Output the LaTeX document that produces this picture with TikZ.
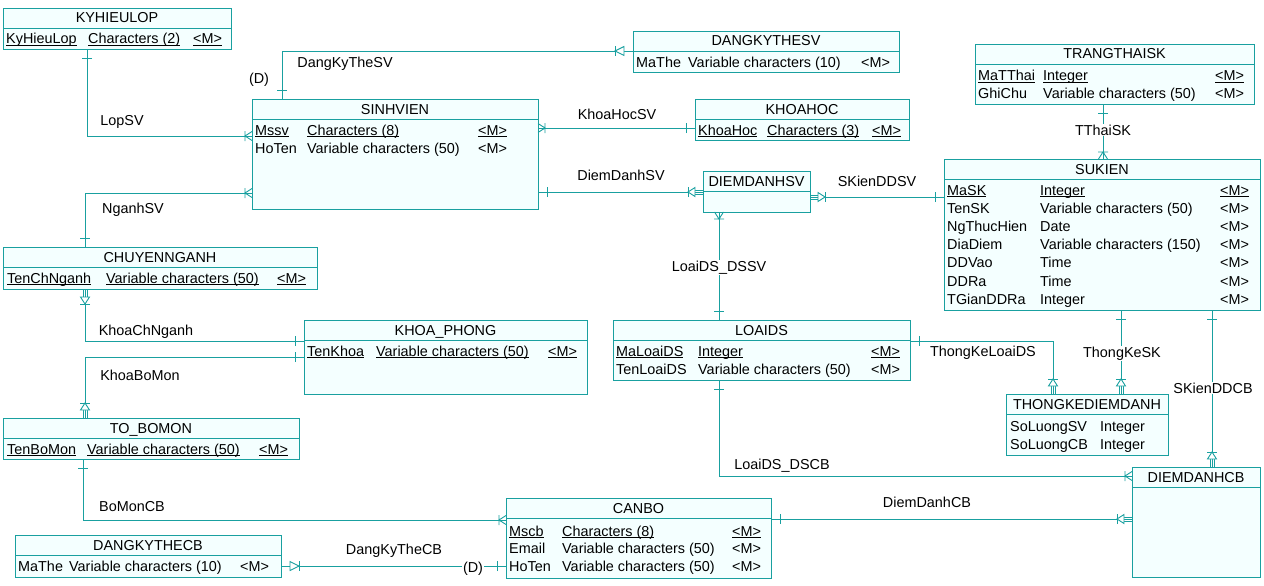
\documentclass[tikz,border=0pt]{standalone}
\usepackage{fontspec}
\setmainfont{Liberation Sans}
\definecolor{erline}{RGB}{25,160,160}
\definecolor{erfill}{RGB}{244,255,255}
\newcommand\ul[1]{\underline{\smash{#1}}}

\begin{document}
\begin{tikzpicture}[x=1pt,y=-1pt,
	font=\fontsize{14.4}{16}\selectfont,
	ent/.style={draw=erline, fill=erfill, line width=0.9pt, anchor=north west, inner sep=0, outer sep=0},
	etitle/.style={anchor=base, inner sep=0},
	attr/.style={anchor=base west, inner sep=0},
	rel/.style={draw=erline, line width=0.9pt},
	lbl/.style={anchor=base, fill=white, inner sep=1pt},
	one/.pic={\draw[rel] (9,-5) -- (9,5);},
	many/.pic={\draw[rel] (0,-4.5) -- (7,0) -- (0,4.5) (7,-5) -- (7,5);},
	dep/.pic={\draw[rel] (0,-2) -- (8,-2) (0,2) -- (8,2);
		\filldraw[rel, fill=white] (8,-4.5) -- (15,0) -- (8,4.5) -- cycle;
		\draw[rel] (15,-5) -- (15,5);},
	depone/.pic={\filldraw[rel, fill=white] (9,-4.5) -- (18,0) -- (9,4.5) -- cycle;
		\draw[rel] (18,-5) -- (18,5);}]
	\useasboundingbox (0,0) rectangle (1264,586);
	%
	\def\entities {kyhieulop/3/8/231/49/KYHIEULOP, dangkythesv/633/31/899/72/DANGKYTHESV,
		sinhvien/252/99/538/209/SINHVIEN, khoahoc/695/99/909/140/KHOAHOC,
		trangthaisk/975/44/1254/104/TRANGTHAISK, sukien/944/159/1260/310/SUKIEN,
		diemdanhsv/703/171/810/212/DIEMDANHSV, chuyennganh/3/247/317/289/CHUYENNGANH,
		khoaphong/304/320/587/394/KHOA\_PHONG, loaids/613/320/910/380/LOAIDS,
		thongke/1006/394/1168/455/THONGKEDIEMDANH, tobomon/3/418/299/459/TO\_BOMON,
		diemdanhcb/1132/467/1260/577/DIEMDANHCB, canbo/506/498/771/578/CANBO,
		dangkythecb/15/535/281/577/DANGKYTHECB}  % name/left/top/right/bottom/title
	\foreach \n/\xa/\ya/\xb/\yb/\t in \entities
	{	\node[ent, minimum width=\xb-\xa, minimum height=\yb-\ya] (\n) at (\xa,\ya) {};
		\draw[rel] (\xa,\ya+20.5) -- (\xb,\ya+20.5);
		\node[etitle] (\n-t) at ({(\xa+\xb)/2},\ya+15) {\t};
	}
	%
	\def\attrs {6/39/\ul{KyHieuLop}, 88/39/\ul{Characters (2)}, 193/39/\ul{<M>},
		636/62/MaThe, 688/62/Variable characters (10), 861/62/<M>,
		255/130/\ul{Mssv}, 307/130/\ul{Characters (8)}, 478/130/\ul{<M>},
		255/148/HoTen, 307/148/Variable characters (50), 478/148/<M>,
		698/130/\ul{KhoaHoc}, 767/130/\ul{Characters (3)}, 872/130/\ul{<M>},
		978/76/\ul{MaTThai}, 1043/76/\ul{Integer}, 1215/76/\ul{<M>},
		978/94/GhiChu, 1043/94/Variable characters (50), 1215/94/<M>,
		947/190/\ul{MaSK}, 1040/190/\ul{Integer}, 1220/190/\ul{<M>},
		947/208/TenSK, 1040/208/Variable characters (50), 1220/208/<M>,
		947/226/NgThucHien, 1040/226/Date, 1220/226/<M>,
		947/244/DiaDiem, 1040/244/Variable characters (150), 1220/244/<M>,
		947/262/DDVao, 1040/262/Time, 1220/262/<M>,
		947/281/DDRa, 1040/281/Time, 1220/281/<M>,
		947/299/TGianDDRa, 1040/299/Integer, 1220/299/<M>,
		7/278/\ul{TenChNganh}, 106/278/\ul{Variable characters (50)}, 277/278/\ul{<M>},
		307/351/\ul{TenKhoa}, 376/351/\ul{Variable characters (50)}, 548/351/\ul{<M>},
		616/351/\ul{MaLoaiDS}, 698/351/\ul{Integer}, 871/351/\ul{<M>},
		616/369/TenLoaiDS, 698/369/Variable characters (50), 871/369/<M>,
		1010/426/SoLuongSV, 1100/426/Integer,
		1010/444/SoLuongCB, 1100/444/Integer,
		7/449/\ul{TenBoMon}, 87/449/\ul{Variable characters (50)}, 259/449/\ul{<M>},
		509/531/\ul{Mscb}, 562/531/\ul{Characters (8)}, 732/531/\ul{<M>},
		509/548/Email, 562/548/Variable characters (50), 732/548/<M>,
		509/566/HoTen, 562/566/Variable characters (50), 732/566/<M>,
		18/566/MaThe, 69/566/Variable characters (10), 240/566/<M>}  % x/row/text
	\foreach \x\y\txt [count=\i] in \attrs
	{	\node[attr] (a\i) at (\x,\y+5) {\txt};
	}
	%
	\draw[rel] (kyhieulop.south -| 87,0) pic[rotate=270]{one} |- (sinhvien.west |- 0,136) pic[rotate=180]{many};
	\draw[rel] (sinhvien.north -| 282,0) pic[rotate=90]{one} |- (dangkythesv.west |- 0,51) pic[rotate=180]{depone};
	\draw[rel] (sinhvien.east |- 0,128) pic{many} -- (khoahoc.west |- 0,128) pic[rotate=180]{one};
	\draw[rel] (sinhvien.east |- 0,192) pic{one} -- (diemdanhsv.west |- 0,192) pic[rotate=180]{dep};
	\draw[rel] (sinhvien.west |- 0,193) pic[rotate=180]{many} -| (chuyennganh.north -| 85,0) pic[rotate=90]{one};
	\draw[rel] (diemdanhsv.east |- 0,197) pic{dep} -- (sukien.west |- 0,197) pic[rotate=180]{one};
	\draw[rel] (diemdanhsv.south -| 719,0) pic[rotate=270]{many} -- (loaids.north -| 719,0) pic[rotate=90]{one};
	\draw[rel] (trangthaisk.south -| 1103,0) pic[rotate=270]{one} -- (sukien.north -| 1103,0) pic[rotate=90]{many};
	\draw[rel] (chuyennganh.south -| 85,0) pic[rotate=270]{dep} |- (khoaphong.west |- 0,341) pic[rotate=180]{one};
	\draw[rel] (khoaphong.west |- 0,357) pic[rotate=180]{one} -| (tobomon.north -| 85,0) pic[rotate=90]{dep};
	\draw[rel] (loaids.east |- 0,341) pic{one} -| (thongke.north -| 1053,0) pic[rotate=90]{dep};
	\draw[rel] (sukien.south -| 1121,0) pic[rotate=270]{one} -- (thongke.north -| 1121,0) pic[rotate=90]{dep};
	\draw[rel] (sukien.south -| 1212,0) pic[rotate=270]{one} -- (diemdanhcb.north -| 1212,0) pic[rotate=90]{dep};
	\draw[rel] (loaids.south -| 719,0) pic[rotate=270]{one} |- (diemdanhcb.west |- 0,476) pic[rotate=180]{many};
	\draw[rel] (canbo.east |- 0,519) pic{one} -- (diemdanhcb.west |- 0,519) pic[rotate=180]{dep};
	\draw[rel] (tobomon.south -| 83,0) pic[rotate=270]{one} |- (canbo.west |- 0,520) pic[rotate=180]{many};
	\draw[rel] (dangkythecb.east |- 0,566) pic{depone} -- (canbo.west |- 0,566) pic[rotate=180]{one};
	%
	\def\labels {122/120/LopSV, 345/62/DangKyTheSV, 259/79/(D), 617/114/KhoaHocSV,
		621/175/DiemDanhSV, 133/208/NganhSV, 877/181/SKienDDSV, 719/266/LoaiDS\_DSSV,
		1103/130/TThaiSK, 146/330/KhoaChNganh, 140/375/KhoaBoMon, 983/351/ThongKeLoaiDS,
		1122/352/ThongKeSK, 1213/388/SKienDDCB, 782/464/LoaiDS\_DSCB, 927/502/DiemDanhCB,
		132/506/BoMonCB, 394/549/DangKyTheCB, 473/567/(D)}  % list elements
	\foreach \x\y\txt [count=\i] in \labels
	{	\node[lbl] (r\i) at (\x,\y+5) {\txt};
	}
\end{tikzpicture}
\end{document}
